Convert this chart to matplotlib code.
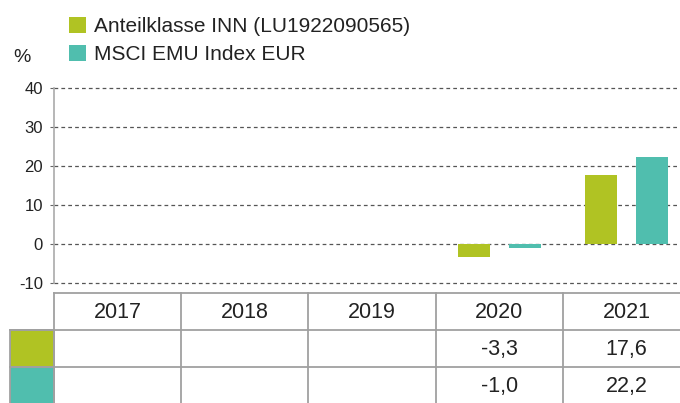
import numpy as np
import matplotlib
matplotlib.use("Agg")
import matplotlib.pyplot as plt
from matplotlib.patches import Rectangle, Patch

plt.rcParams['font.family'] = ['Liberation Sans', 'DejaVu Sans']
plt.rcParams['axes.unicode_minus'] = False

years = ["2017", "2018", "2019", "2020", "2021"]
fund = [np.nan, np.nan, np.nan, -3.3, 17.6]
index = [np.nan, np.nan, np.nan, -1.0, 22.2]
series_names = ["Anteilklasse INN (LU1922090565)", "MSCI EMU Index EUR"]
colors = ["#B0C323", "#50BEAE"]
yticks = [-10, 0, 10, 20, 30, 40]

W, H = 680, 403
fig = plt.figure(figsize=(W / 100, H / 100), dpi=100)

def fx(px):
    return px / W

def fy(py):
    return 1 - py / H

# main chart axes
left_px, right_px = 54, 690
top_px, bot_px = 88, 283
ax = fig.add_axes([fx(left_px), fy(bot_px), fx(right_px - left_px), (bot_px - top_px) / H])
n = len(years)
x = np.arange(n) + 0.5
ax.bar(x - 0.2, fund, width=0.25, color=colors[0], zorder=3)
ax.bar(x + 0.2, index, width=0.25, color=colors[1], zorder=3)
ax.set_xlim(0, n)
ax.set_ylim(-10, 40)
ax.set_yticks(yticks)
ax.set_yticklabels([str(t) for t in yticks], fontsize=12, color="#222222")
ax.set_xticks([])
for t in yticks:
    ax.axhline(t, color="#555555", lw=0.9, ls=(0, (3, 2.5)), zorder=1, clip_on=False)
for s in ["top", "right", "bottom"]:
    ax.spines[s].set_visible(False)
ax.spines["left"].set_color("#aaaaaa")
ax.spines["left"].set_linewidth(1.2)
ax.tick_params(axis="y", length=3, color="#666666", pad=5)

# table axes
tl, tr = 10, 690
tt, tb = 293, 404
tax = fig.add_axes([fx(tl), fy(tb), fx(tr - tl), (tb - tt) / H])
colw = (tr - left_px) / n
sw = (left_px - tl) / colw
tax.set_xlim(-sw, n)
tax.set_ylim(3, 0)
tax.axis("off")
lc = "#a0a0a0"
lw = 1.3
tax.plot([0, n], [0, 0], color=lc, lw=lw, clip_on=False)
tax.plot([-sw, n], [1, 1], color=lc, lw=lw, clip_on=False)
tax.plot([-sw, n], [2, 2], color=lc, lw=lw, clip_on=False)
for i in range(n):
    tax.plot([i, i], [0, 3], color=lc, lw=lw, clip_on=False)
tax.plot([-sw, -sw], [1, 3], color=lc, lw=lw, clip_on=False)
for r, c in enumerate(colors):
    tax.add_patch(Rectangle((-sw, r + 1), sw, 1, facecolor=c, edgecolor=lc, lw=lw, zorder=0))
for i, y in enumerate(years):
    tax.text(i + 0.5, 0.53, y, ha="center", va="center", fontsize=15.5, color="#222222")
for r, vals in enumerate([fund, index]):
    for i, v in enumerate(vals):
        if not np.isnan(v):
            tax.text(i + 0.5, r + 1.53, f"{v:.1f}".replace(".", ","), ha="center", va="center",
                     fontsize=15.5, color="#222222")

# legend
handles = [Patch(facecolor=c, edgecolor="none") for c in colors]
fig.legend(handles, series_names, loc="upper left", bbox_to_anchor=(fx(63), fy(11)),
           frameon=False, fontsize=15, handlelength=0.78, handleheight=0.78,
           handletextpad=0.42, labelspacing=0.42, borderaxespad=0, borderpad=0.3,
           labelcolor="#222222")
fig.text(fx(13), fy(57), "%", fontsize=14, va="center", ha="left", color="#222222")

fig.savefig("out.png", dpi=100)
